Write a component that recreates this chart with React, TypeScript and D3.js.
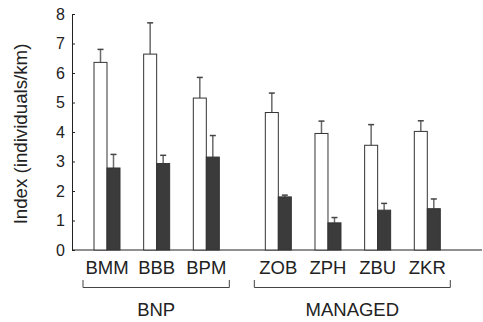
import React, { useRef, useEffect } from 'react';
import * as d3 from 'd3';

// sites, in plotting order
const sites = ['BMM', 'BBB', 'BPM', 'ZOB', 'ZPH', 'ZBU', 'ZKR'];
const siteGroup = ['BNP', 'BNP', 'BNP', 'MANAGED', 'MANAGED', 'MANAGED', 'MANAGED'];
const groups = ['BNP', 'MANAGED'];

// white bars (first series) and their error tops
const whiteMean = [6.36, 6.64, 5.15, 4.66, 3.95, 3.55, 4.02];
const whiteErr = [0.44, 1.06, 0.7, 0.66, 0.42, 0.7, 0.36];
// dark bars (second series)
const darkMean = [2.78, 2.93, 3.15, 1.8, 0.92, 1.35, 1.4];
const darkErr = [0.46, 0.28, 0.73, 0.06, 0.18, 0.23, 0.33];

const yTicks = [0, 1, 2, 3, 4, 5, 6, 7, 8];
const yLabel = 'Index (individuals/km)';

const W = 483;
const H = 322;
const FONT = '"Liberation Sans", Arial, Helvetica, sans-serif';

const App = () => {
  const ref = useRef<SVGSVGElement>(null);

  useEffect(() => {
    const svg = d3.select(ref.current);
    svg.selectAll('*').remove();

    // slot position of each site; the second group is shifted by a gap
    const slot = sites.map((_, i) => i + (i >= 3 ? 0.45 : 0));
    const x = d3.scaleLinear().domain([0, 6.45]).range([107, 427.3]);
    const y = d3.scaleLinear().domain([0, 8]).range([250, 14]);
    const barW = 13;

    // y axis, ticks pointing inward
    const yAxis = d3.axisLeft(y).tickValues(yTicks).tickSizeInner(-3).tickSizeOuter(0).tickPadding(7);
    const gy = svg.append('g').attr('transform', 'translate(72,0)').call(yAxis);
    gy.select('.domain').attr('stroke', '#222');
    gy.selectAll('.tick line').attr('stroke', '#222');
    gy.selectAll('.tick text')
      .attr('fill', '#222')
      .style('font-family', FONT)
      .style('font-size', '16px');

    // x baseline
    svg.append('line')
      .attr('x1', 72).attr('x2', 482)
      .attr('y1', y(0)).attr('y2', y(0))
      .attr('stroke', '#222');

    const series = [
      { mean: whiteMean, err: whiteErr, fill: '#ffffff', dx: -barW },
      { mean: darkMean, err: darkErr, fill: '#3b3b3b', dx: 0 },
    ];

    series.forEach(s => {
      const g = svg.append('g');
      // error bars first so the bar covers the stem base
      g.selectAll('.err')
        .data(sites)
        .enter()
        .append('g')
        .each(function (_, i) {
          const cx = x(slot[i]) + s.dx + barW / 2;
          const e = d3.select(this);
          e.append('line')
            .attr('x1', cx).attr('x2', cx)
            .attr('y1', y(s.mean[i])).attr('y2', y(s.mean[i] + s.err[i]))
            .attr('stroke', '#6a6a6a').attr('stroke-width', 1.5);
          e.append('line')
            .attr('x1', cx - 3).attr('x2', cx + 3)
            .attr('y1', y(s.mean[i] + s.err[i])).attr('y2', y(s.mean[i] + s.err[i]))
            .attr('stroke', '#444').attr('stroke-width', 1.5);
        });
      g.selectAll('rect')
        .data(sites)
        .enter()
        .append('rect')
        .attr('x', (_, i) => x(slot[i]) + s.dx)
        .attr('y', (_, i) => y(s.mean[i]))
        .attr('width', barW)
        .attr('height', (_, i) => y(0) - y(s.mean[i]))
        .attr('fill', s.fill)
        .attr('stroke', '#333')
        .attr('stroke-width', 1);
    });

    // site labels
    svg.append('g')
      .selectAll('text')
      .data(sites)
      .enter()
      .append('text')
      .attr('x', (_, i) => x(slot[i]))
      .attr('y', 274)
      .attr('text-anchor', 'middle')
      .attr('fill', '#222')
      .style('font-family', FONT)
      .style('font-size', '18.5px')
      .text(d => d);

    // group brackets
    groups.forEach(gname => {
      const idx = sites.map((_, i) => i).filter(i => siteGroup[i] === gname);
      const x0 = x(slot[idx[0]]) - 24;
      const x1 = x(slot[idx[idx.length - 1]]) + 23;
      svg.append('path')
        .attr('d', `M${x0},280V287.5H${x1}V280`)
        .attr('fill', 'none')
        .attr('stroke', '#444')
        .attr('stroke-width', 1);
      svg.append('text')
        .attr('x', (x0 + x1) / 2)
        .attr('y', 316)
        .attr('text-anchor', 'middle')
        .attr('fill', '#222')
        .style('font-family', FONT)
        .style('font-size', '18.5px')
        .text(gname);
    });

    // y title
    svg.append('text')
      .attr('transform', `translate(20,${134}) rotate(-90)`)
      .attr('text-anchor', 'middle')
      .attr('dominant-baseline', 'central')
      .attr('fill', '#222')
      .style('font-family', FONT)
      .style('font-size', '18.7px')
      .text(yLabel);
  }, []);

  return (
    <svg
      ref={ref}
      width={W}
      height={H}
      style={{ position: 'absolute', left: 0, top: 0, background: '#fff' }}
    />
  );
};

export default App;
